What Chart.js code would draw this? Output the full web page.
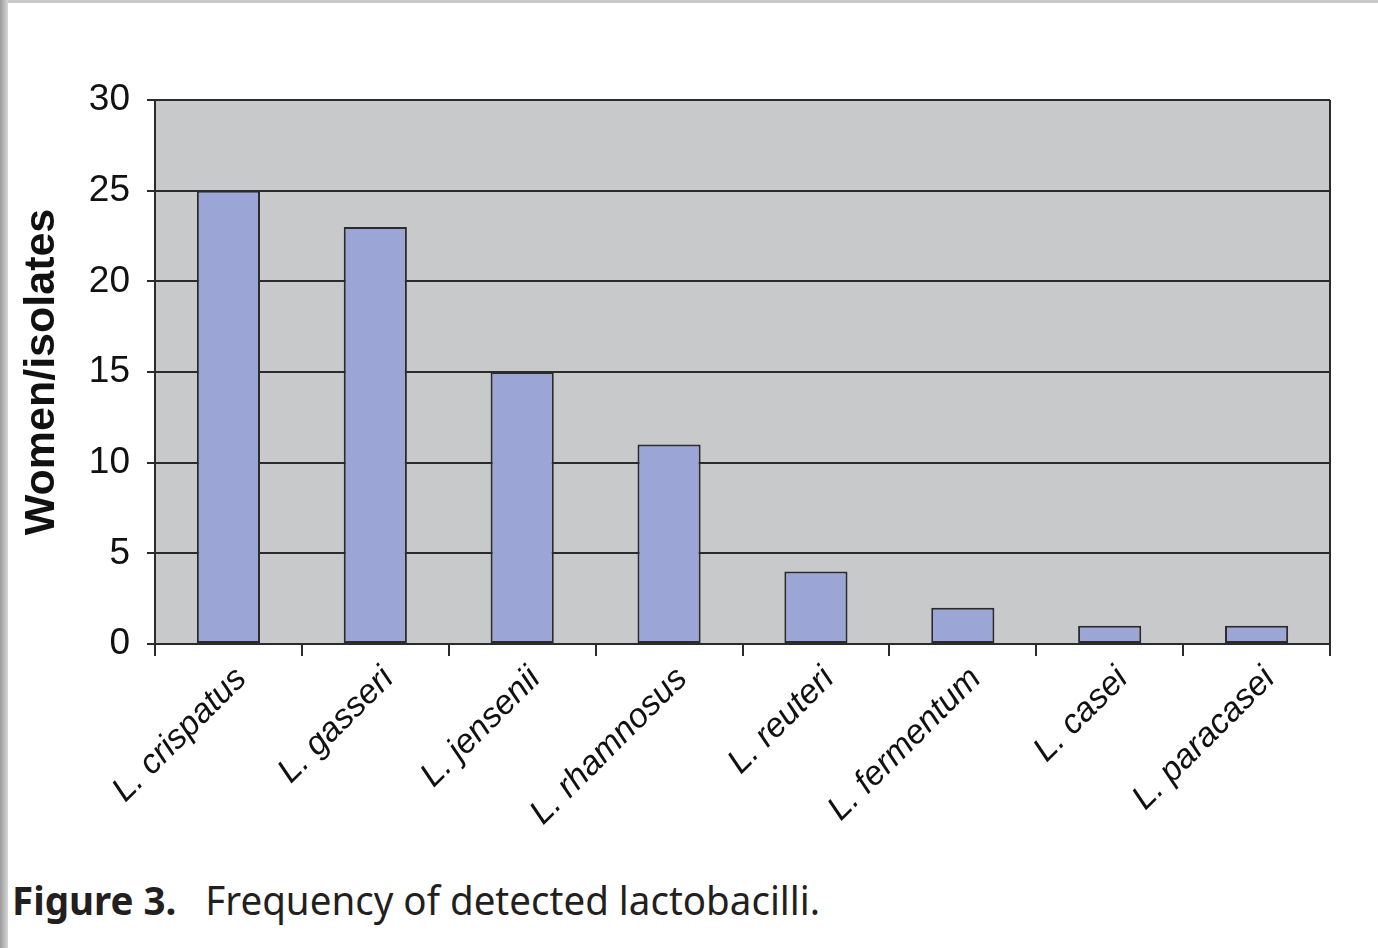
<!DOCTYPE html>
<html>
<head>
<meta charset="utf-8">
<script src="https://cdn.jsdelivr.net/npm/chart.js@4.4.1/dist/chart.umd.min.js"></script>
<style>
  html, body { margin: 0; padding: 0; background: #fff; }
  body { width: 1378px; height: 948px; position: relative; overflow: hidden; }
  .frame-top { position: absolute; left: 0; top: 0; width: 1378px; height: 3px; background: #c9c9c9; }
  .frame-left { position: absolute; left: 0; top: 0; width: 8px; height: 948px;
    background: linear-gradient(to right, #9a9a9a, #d6d6d6); }
  #wrap { position: absolute; left: 0; top: 0; width: 1378px; height: 860px; }
  .caption { position: absolute; left: 12px; top: 872px; font-family: "Noto Sans", sans-serif;
    font-size: 40px; color: #231f20; white-space: nowrap; transform-origin: left top; }
  .caption b { font-weight: 700; margin-right: 30px; }
</style>
</head>
<body>
<div class="frame-top"></div>
<div class="frame-left"></div>
<div id="wrap"><canvas id="chart" width="1378" height="860"></canvas></div>
<div class="caption" id="caption"><b>Figure 3.</b>Frequency of detected lactobacilli.</div>
<script>
const species = ["L. crispatus", "L. gasseri", "L. jensenii", "L. rhamnosus", "L. reuteri", "L. fermentum", "L. casei", "L. paracasei"];
const counts = [25, 23, 15, 11, 4, 2, 1, 1];
const yTicks = [0, 5, 10, 15, 20, 25, 30];

const LINE = '#2b2b2b';

const plotBg = {
  id: 'plotBg',
  beforeDraw(chart){
    const {ctx, chartArea: a} = chart;
    ctx.save();
    ctx.fillStyle = '#c8c9cb';
    ctx.fillRect(a.left, a.top, a.right - a.left, a.bottom - a.top);
    ctx.restore();
  },
  afterDraw(chart){
    const {ctx, chartArea: a} = chart;
    ctx.save();
    ctx.strokeStyle = LINE; ctx.lineWidth = 2;
    ctx.beginPath();
    ctx.moveTo(a.right, a.top); ctx.lineTo(a.right, a.bottom);
    ctx.stroke();
    ctx.restore();
  }
};

Chart.defaults.font.family = '"Liberation Sans", Arial, sans-serif';
Chart.defaults.color = '#111';

new Chart(document.getElementById('chart').getContext('2d'), {
  type: 'bar',
  data: {
    labels: species,
    datasets: [{
      data: counts,
      backgroundColor: '#9ba5d6',
      borderColor: LINE,
      borderWidth: 2,
      borderSkipped: false,
      categoryPercentage: 1,
      barPercentage: 0.43
    }]
  },
  options: {
    responsive: false,
    animation: false,
    layout: { padding: { top: 100, right: 48, left: 0, bottom: 0 } },
    plugins: { legend: { display: false }, tooltip: { enabled: false } },
    scales: {
      x: {
        offset: true,
        grid: { offset: true, drawOnChartArea: false, drawTicks: true, tickLength: 12, color: LINE, lineWidth: 2 },
        border: { display: true, color: LINE, width: 2 },
        ticks: { minRotation: 45, maxRotation: 45, padding: 3, labelOffset: 13, autoSkip: false,
          font: { size: 34, style: 'italic' }, color: '#111' },
        afterFit(scale){ scale.height = 216; }
      },
      y: {
        min: 0, max: 30,
        afterBuildTicks(scale){ scale.ticks = yTicks.map(v => ({ value: v })); },
        grid: { color: LINE, lineWidth: 2, tickLength: 8 },
        border: { display: true, color: LINE, width: 2 },
        ticks: { padding: 17, font: { size: 37 }, color: '#111' },
        title: { display: true, text: 'Women/isolates', font: { size: 43, weight: 'bold' }, color: '#111',
          padding: { top: 16, bottom: 0 } },
        afterFit(scale){ scale.width = 155; }
      }
    }
  },
  plugins: [plotBg]
});

// fit caption to the reference width
const cap = document.getElementById('caption');
const w = cap.getBoundingClientRect().width;
cap.style.transform = 'scaleX(' + (808 / w) + ')';
</script>
</body>
</html>
